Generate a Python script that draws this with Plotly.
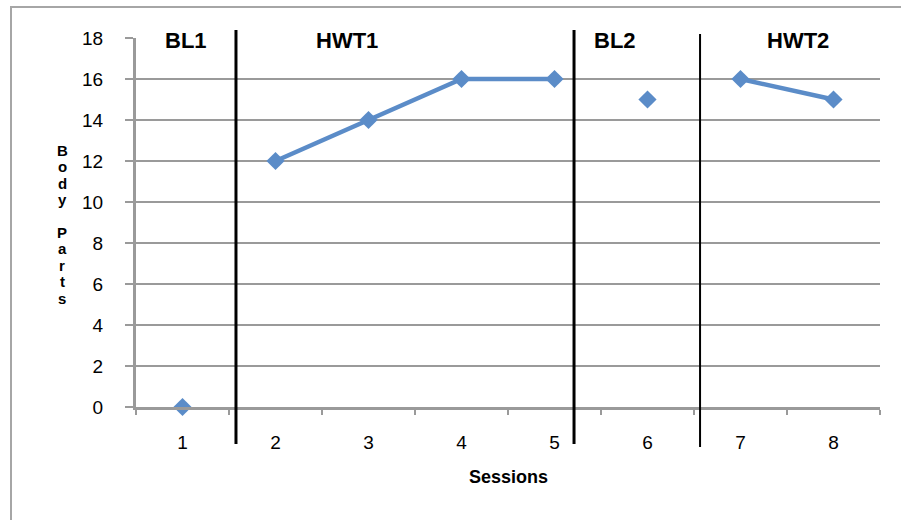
import plotly.graph_objects as go

# Session data
sessions = [1, 2, 3, 4, 5, 6, 7, 8]
body_parts = [0, 12, 14, 16, 16, 15, 16, 15]
phase_of_session = ["BL1", "HWT1", "HWT1", "HWT1", "HWT1", "BL2", "HWT2", "HWT2"]

# Phase labels and where phase-change lines fall (in session units)
phase_names = ["BL1", "HWT1", "BL2", "HWT2"]
phase_label_x = [1.04, 2.77, 5.65, 7.62]
phase_change_x = [1.575, 5.21, 6.565]

y_ticks = [0, 2, 4, 6, 8, 10, 12, 14, 16, 18]
y_title = "Body Parts"
x_title = "Sessions"

BLUE = "#5B8CC8"
GRID = "#9a9a9a"
FONT = "Liberation Sans, Arial, sans-serif"

# Plot area in pixels (for paper-coordinate helpers)
L, R, T, B = 136, 21, 38, 113
W, H = 901, 520
PW, PH = W - L - R, H - T - B


def py(p):
    """pixel row -> paper y"""
    return (H - B - p) / PH


def px(p):
    """pixel column -> paper x"""
    return (p - L) / PW


fig = go.Figure()

# one trace per phase so lines do not cross phase changes
for name in phase_names:
    xs = [str(s) for s, ph in zip(sessions, phase_of_session) if ph == name]
    ys = [v for v, ph in zip(body_parts, phase_of_session) if ph == name]
    fig.add_trace(go.Scatter(
        x=xs, y=ys, mode="lines+markers", cliponaxis=False,
        line=dict(color=BLUE, width=4.5),
        marker=dict(symbol="diamond", size=14, color=BLUE),
        showlegend=False, hoverinfo="skip",
    ))

shapes = []
# phase-change lines
widths = [3, 3, 2]
tops = [30, 30, 34]
bots = [444, 444, 447]
for xv, w, t, b in zip(phase_change_x, widths, tops, bots):
    shapes.append(dict(type="line", xref="x", yref="paper",
                       x0=xv - 1, x1=xv - 1, y0=py(b), y1=py(t),
                       line=dict(color="black", width=w), layer="above"))

# chart frame
shapes.append(dict(type="rect", xref="paper", yref="paper",
                   x0=px(11), x1=px(930), y0=py(560), y1=py(7),
                   line=dict(color="#a6a6a6", width=2), layer="below"))

annotations = []
for name, xv in zip(phase_names, phase_label_x):
    annotations.append(dict(text=f"<b>{name}</b>", x=xv - 1, xref="x",
                            y=py(40), yref="paper", showarrow=False,
                            xanchor="center", yanchor="middle",
                            font=dict(family=FONT, size=22, color="black")))

annotations.append(dict(text=f"<b>{x_title}</b>", x=0.5, xref="paper",
                        y=py(477), yref="paper", showarrow=False,
                        xanchor="center", yanchor="middle",
                        font=dict(family=FONT, size=18, color="black")))

# stacked vertical axis title, one letter per row
row = 150
for ch in y_title:
    if ch == " ":
        row += 16
        continue
    annotations.append(dict(text=f"<b>{ch}</b>", x=px(62), xref="paper",
                            y=py(row), yref="paper", showarrow=False,
                            xanchor="center", yanchor="middle",
                            font=dict(family=FONT, size=15, color="black")))
    row += 16.5

fig.update_layout(
    width=W, height=H,
    margin=dict(l=L, r=R, t=T, b=B),
    paper_bgcolor="white", plot_bgcolor="white",
    shapes=shapes, annotations=annotations,
    xaxis=dict(type="category", categoryorder="array",
               categoryarray=[str(s) for s in sessions],
               range=[-0.5, 7.5], tickson="boundaries",
               ticks="outside", ticklen=5, tickwidth=2, tickcolor=GRID,
               showline=True, linecolor=GRID, linewidth=3,
               showgrid=False, zeroline=False,
               ticklabelstandoff=16,
               tickfont=dict(family=FONT, size=19, color="black")),
    yaxis=dict(range=[0, 18], tickvals=y_ticks,
               ticks="outside", ticklen=8, tickwidth=2, tickcolor=GRID,
               showline=True, linecolor=GRID, linewidth=3,
               showgrid=True, gridcolor=GRID, gridwidth=2,
               zeroline=False, ticklabelstandoff=18,
               tickfont=dict(family=FONT, size=19, color="black")),
)

fig.write_html("out.html")
